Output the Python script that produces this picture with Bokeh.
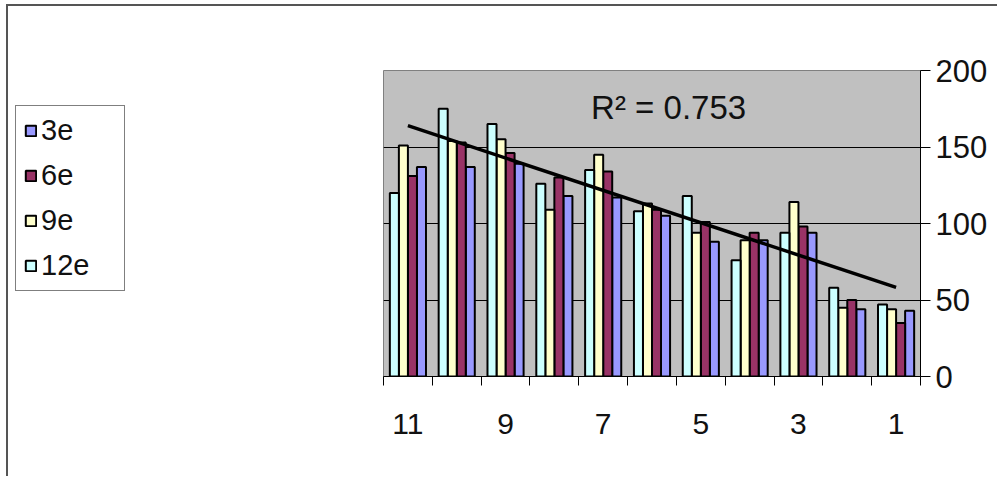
import numpy as np
from bokeh.plotting import figure
from bokeh.layouts import row
from bokeh.models import (ColumnDataSource, Range1d, FixedTicker, Legend, LegendItem)
from bokeh.transform import dodge
from bokeh.core.properties import value
from bokeh.embed import file_html
from bokeh.resources import INLINE

# ---- data ----
categories = [11, 10, 9, 8, 7, 6, 5, 4, 3, 2, 1]
s3e = [137, 137, 139, 118, 117, 105, 88, 89, 94, 44, 43]
s6e = [131, 153, 146, 130, 134, 109, 101, 94, 98, 50, 35]
s9e = [151, 154, 155, 109, 145, 113, 94, 89, 114, 45, 44]
s12e = [120, 175, 165, 126, 135, 108, 118, 76, 94, 58, 47]
series_names = ["3e", "6e", "9e", "12e"]
series_colors = ["#9999ff", "#993366", "#ffffcc", "#ccffff"]
x_tick_labels = [11, 9, 7, 5, 3, 1]
y_ticks = [0, 50, 100, 150, 200]
r2_label = "R\u00b2 = 0.753"

FONT = "Liberation Sans"
FIG_H = 470
TOP = 64
BOTTOM = 100

src = ColumnDataSource(dict(cat=categories, s3e=s3e, s6e=s6e, s9e=s9e, s12e=s12e))

# ---- main chart ----
p = figure(width=614, height=FIG_H, output_backend="svg", toolbar_location=None,
           x_range=Range1d(11.5, 0.5), y_range=Range1d(0, 200),
           y_axis_location="right", min_border_left=0, min_border_top=TOP,
           min_border_right=77, min_border_bottom=BOTTOM)
p.background_fill_color = "#c0c0c0"
p.border_fill_color = "white"
p.outline_line_color = "#808080"
p.outline_line_width = 1

w = 0.185
offsets = {"12e": 1.5 * w, "9e": 0.5 * w, "6e": -0.5 * w, "3e": -1.5 * w}
cols = {"3e": "s3e", "6e": "s6e", "9e": "s9e", "12e": "s12e"}
for name, color in zip(series_names, series_colors):
    p.vbar(x=dodge("cat", offsets[name], range=p.x_range), top=cols[name], width=w,
           bottom=0, source=src, fill_color=color, line_color="black", line_width=2)

# linear trend on 12e
xs = np.array(categories, dtype=float)
ys = np.array(s12e, dtype=float)
m, b = np.polyfit(xs, ys, 1)
tx = np.array([max(categories), min(categories)], dtype=float)
p.line(tx, m * tx + b, line_color="black", line_width=3.5)

p.text(x=[5.66], y=[176], text=[r2_label], text_font=value(FONT), text_font_size="33px",
       text_align="center", text_baseline="middle", text_color="#111111")

xa = p.xaxis[0]
xa.ticker = FixedTicker(ticks=x_tick_labels, minor_ticks=[c + 0.5 for c in range(0, 12)])
xa.major_tick_out = 0
xa.major_tick_in = 0
xa.minor_tick_out = 9
xa.minor_tick_in = 0
xa.minor_tick_line_color = "black"
xa.axis_line_color = "black"
xa.major_label_text_font = FONT
xa.major_label_text_font_size = "30px"
xa.major_label_text_color = "#111111"
xa.major_label_standoff = 28

ya = p.yaxis[0]
ya.ticker = FixedTicker(ticks=y_ticks)
ya.major_tick_out = 10
ya.major_tick_in = 0
ya.minor_tick_out = 0
ya.minor_tick_in = 0
ya.axis_line_color = "black"
ya.major_tick_line_color = "black"
ya.major_label_text_font = FONT
ya.major_label_text_font_size = "31px"
ya.major_label_text_color = "#111111"
ya.major_label_standoff = 5

p.xgrid.visible = False
p.ygrid.ticker = FixedTicker(ticks=[50, 100, 150])
p.ygrid.grid_line_color = "black"
p.ygrid.grid_line_width = 1

# ---- legend panel ----
lf = figure(width=375, height=FIG_H, output_backend="svg", toolbar_location=None,
            x_range=Range1d(0, 1), y_range=Range1d(0, 1),
            min_border_left=0, min_border_right=0, min_border_top=TOP, min_border_bottom=BOTTOM)
lf.axis.visible = False
lf.grid.visible = False
lf.outline_line_color = None
lf.background_fill_color = "white"
lf.border_fill_color = "white"
items = []
for name, color in zip(series_names, series_colors):
    # swatch-only renderer, tiny and hidden underneath the legend box
    r = lf.vbar(x=[0.15], bottom=[0.5], top=[0.51], width=0.01, fill_color=color,
                line_color="black", line_width=2)
    items.append(LegendItem(label=name, renderers=[r]))
legend = Legend(items=items, location=(7, 85), border_line_color="black", border_line_width=1.5,
                background_fill_color="white", background_fill_alpha=1,
                label_text_font=FONT, label_text_font_size="29px",
                label_text_color="#111111",
                glyph_width=13, glyph_height=13, label_height=30, label_width=75,
                spacing=12, padding=8, margin=0, label_standoff=4)
lf.add_layout(legend)

layout = row(lf, p, spacing=0,
             styles={"border-left": "2px solid #555555", "border-top": "2px solid #555555",
                     "margin-left": "6px", "margin-top": "4px"})

open("out.html", "w").write(file_html(layout, INLINE))
